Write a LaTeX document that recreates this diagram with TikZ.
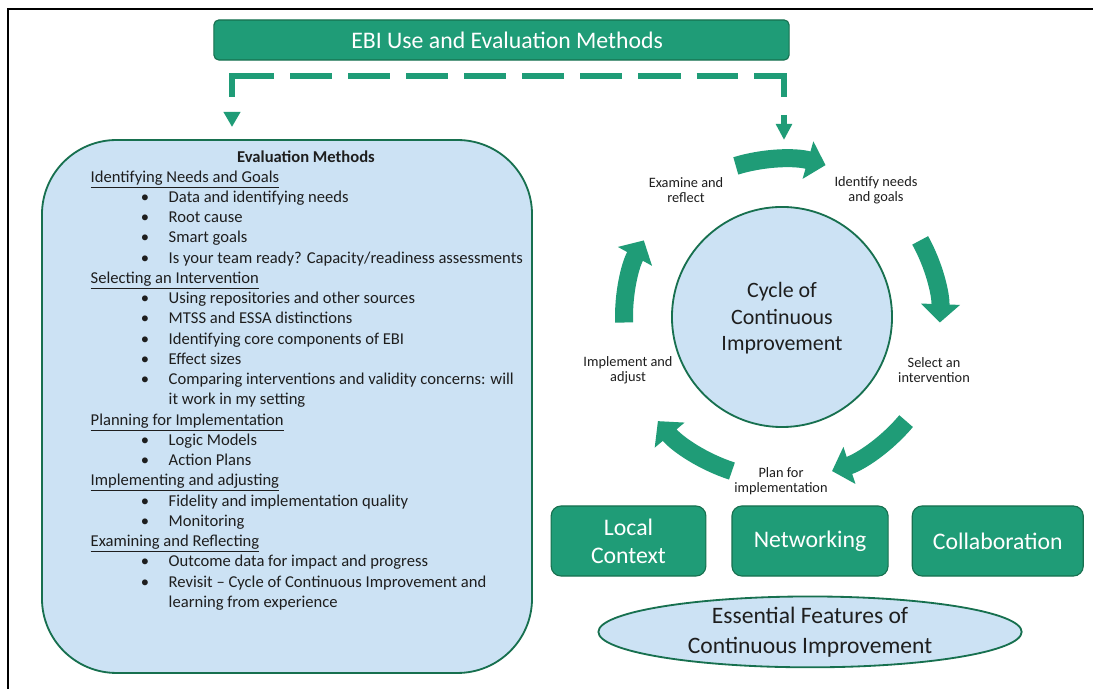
\documentclass[tikz,border=0pt]{standalone}
\usepackage{fontspec}
\setmainfont{Carlito}
\usetikzlibrary{positioning,shapes.geometric,arrows.meta}

\definecolor{ebigreen}{HTML}{1F9C77}
\definecolor{ebidark}{HTML}{17704F}
\definecolor{ebiblue}{HTML}{CCE2F4}
\definecolor{ebitext}{HTML}{1E1E1E}

\newcommand{\evitem}[1]{\hspace*{35.6pt}\makebox[19.9pt][l]{\textbullet}#1}
\newcommand{\evcont}[1]{\hspace*{55.5pt}#1}

\begin{document}
\begin{tikzpicture}[x=0.025cm,y=0.025cm,line width=1pt,
  greenbox/.style={draw=ebidark,fill=ebigreen,rounded corners=3.5pt,text=white,line width=0.8pt,align=center,inner sep=0pt},
  featbox/.style={greenbox,rounded corners=7pt,minimum height=49.8pt,font=\fontsize{16.9}{20}\selectfont},
  bluebox/.style={draw=ebidark,fill=ebiblue,line width=1.3pt,text=ebitext,align=center,inner sep=0pt},
  steplabel/.style={align=center,text=ebitext,font=\fontsize{10.2}{11}\selectfont,inner sep=0pt},
  cycarrow/.style={draw=ebigreen,line width=12.8pt,-{Triangle[width=27pt,length=13pt]}},
  dashline/.style={draw=ebigreen,line width=4.1pt}]

\fill[white] (0,0) rectangle (1093,689);
\useasboundingbox (0,0) rectangle (1093,689);
\draw[line width=1.4pt] (8,0) -- (8,680) -- (1093,680);

% title and dashed links
\node[greenbox,minimum width=409pt,minimum height=28.5pt,font=\fontsize{16.9}{20}\selectfont] (ebi) at (501.5,649) {\hspace*{8pt}EBI Use and Evaluation Methods};

\coordinate (dashL) at (232,592);
\coordinate (cornerL) at (232,613);
\coordinate (cornerR) at (784,613);
\coordinate (dashR) at (784,592);
\coordinate (dashA) at (290,613);
\coordinate (dashB) at (738,613);
\draw[dashline] (dashL) -- (cornerL) -- ++(42,0);
\draw[dashline,dash pattern=on 29.9pt off 11.4pt] (dashA) -- (dashB);
\draw[dashline] (cornerR) ++(-30,0) -- (cornerR) -- (dashR);
\coordinate (tipL) at (232,577);
\coordinate (tipR) at (784,574);
\draw[dashline,-{Triangle[width=11.4pt,length=10.7pt]}] (tipL) -- ++(0,-15);
\draw[dashline,-{Triangle[width=11pt,length=11.4pt]}] (tipR) -- ++(0,-25);

% evaluation methods
\node[bluebox,rounded corners=53pt,minimum width=348.5pt,minimum height=379pt] (evalbox) at (287,282.5) {};
\node[font=\fontsize{11.8}{14.4}\selectfont\bfseries,text=ebitext] (evaltitle) at (306,532) {Evaluation Methods};
\node[anchor=north west,align=left,inner sep=0pt,text=ebitext,font=\fontsize{11.8}{14.4}\selectfont] (evallist) at (90,519) {%
\underline{Identifying Needs and Goals}\\
\evitem{Data and identifying needs}\\
\evitem{Root cause}\\
\evitem{Smart goals}\\
\evitem{Is your team ready? Capacity/readiness assessments}\\
\underline{Selecting an Intervention}\\
\evitem{Using repositories and other sources}\\
\evitem{MTSS and ESSA distinctions}\\
\evitem{Identifying core components of EBI}\\
\evitem{Effect sizes}\\
\evitem{Comparing interventions and validity concerns: will}\\
\evcont{it work in my setting}\\
\underline{Planning for Implementation}\\
\evitem{Logic Models}\\
\evitem{Action Plans}\\
\underline{Implementing and adjusting}\\
\evitem{Fidelity and implementation quality}\\
\evitem{Monitoring}\\
\underline{Examining and Reflecting}\\
\evitem{Outcome data for impact and progress}\\
\evitem{Revisit – Cycle of Continuous Improvement and}\\
\evcont{learning from experience}};

% cycle
\node[bluebox,circle,minimum size=156.5pt,font=\fontsize{15.6}{18.5}\selectfont] (cycle) at (782,372) {\\[-6pt]Cycle of\\Continuous\\Improvement};

\node[steplabel] (examine) at (686,499) {Examine and\\reflect};
\node[steplabel] (identify) at (876,499) {Identify needs\\and goals};
\node[steplabel] (select) at (934,319) {Select an\\intervention};
\node[steplabel] (plan) at (781,208) {Plan for\\implementation};
\node[steplabel] (implement) at (628,319) {Implement and\\adjust};

\draw[cycarrow] ([shift={(107:158)}]cycle.center) arc[start angle=107,end angle=74,radius=158];
\draw[cycarrow] ([shift={(29:158)}]cycle.center) arc[start angle=29,end angle=-2,radius=158];
\draw[cycarrow] ([shift={(-40:162)}]cycle.center) arc[start angle=-40,end angle=-72,radius=162];
\draw[cycarrow] ([shift={(252:162)}]cycle.center) arc[start angle=252,end angle=220,radius=162];
\draw[cycarrow] ([shift={(182:158)}]cycle.center) arc[start angle=182,end angle=151,radius=158];

% essential features
\node[featbox,minimum width=110pt] (local) at (628.5,148) {Local\\Context};
\node[featbox,minimum width=111pt,right=17.8pt of local] (network) {Networking};
\node[featbox,minimum width=121.6pt,right=16.4pt of network] (collab) {Collaboration};
\node[bluebox,ellipse,minimum width=301pt,minimum height=47.7pt,below=13.5pt of network,font=\fontsize{16.75}{21.3}\selectfont] (features) {Essential Features of\\Continuous Improvement};
\end{tikzpicture}
\end{document}
